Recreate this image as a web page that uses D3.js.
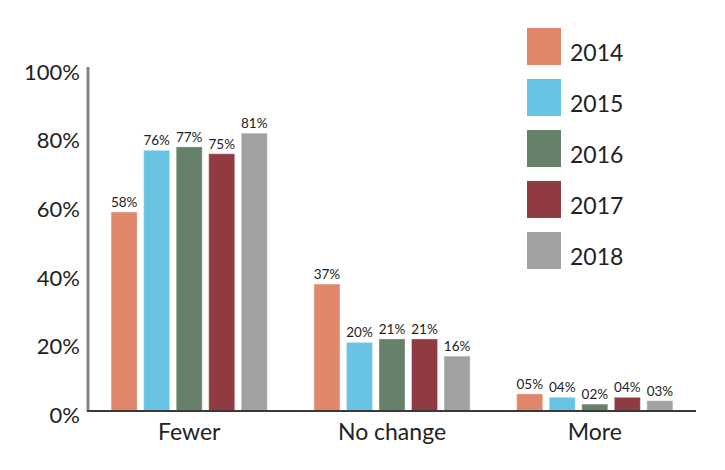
<!DOCTYPE html>
<html>
<head>
<meta charset="utf-8">
<script src="https://cdn.jsdelivr.net/npm/d3@7"></script>
<style>
  html, body { margin: 0; padding: 0; background: #fff; }
  svg { display: block; }
  text { font-family: Lato, "Open Sans", sans-serif; fill: #222; }
</style>
</head>
<body>
<svg id="chart" width="725" height="470"></svg>
<script>
const categories = ["Fewer", "No change", "More"];
const years = ["2014", "2015", "2016", "2017", "2018"];
const values2014 = [58, 37, 5];
const values2015 = [76, 20, 4];
const values2016 = [77, 21, 2];
const values2017 = [75, 21, 4];
const values2018 = [81, 16, 3];
const valueLabels2014 = ["58%", "37%", "05%"];
const valueLabels2015 = ["76%", "20%", "04%"];
const valueLabels2016 = ["77%", "21%", "02%"];
const valueLabels2017 = ["75%", "21%", "04%"];
const valueLabels2018 = ["81%", "16%", "03%"];
const yTicks = [0, 20, 40, 60, 80, 100];
const yTickLabels = ["0%", "20%", "40%", "60%", "80%", "100%"];
const colors = ["#E0866A", "#68C4E2", "#67806A", "#903A42", "#A1A1A1"];

const seriesValues = [values2014, values2015, values2016, values2017, values2018];
const seriesLabels = [valueLabels2014, valueLabels2015, valueLabels2016, valueLabels2017, valueLabels2018];

const svg = d3.select("#chart");
const x0 = d3.scaleBand().domain(categories).range([88, 696]).paddingInner(0.23).paddingOuter(0.114);
const x1 = d3.scaleBand().domain(years).range([0, x0.bandwidth()]).paddingInner(0.2).paddingOuter(0);
const y = d3.scaleLinear().domain([0, 100]).range([411, 68]);
const color = d3.scaleOrdinal().domain(years).range(colors);

const rows = [];
categories.forEach((c, ci) => {
  years.forEach((yr, si) => {
    rows.push({ cat: c, year: yr, value: seriesValues[si][ci], label: seriesLabels[si][ci] });
  });
});

// bars
svg.append("g").selectAll("rect").data(rows).join("rect")
  .attr("x", d => x0(d.cat) + x1(d.year))
  .attr("y", d => y(d.value))
  .attr("width", x1.bandwidth())
  .attr("height", d => y(0) - y(d.value))
  .attr("fill", d => color(d.year))
  .attr("stroke", "#fff").attr("stroke-opacity", 0.35).attr("stroke-width", 1);

// value labels
svg.append("g").selectAll("text").data(rows).join("text")
  .attr("x", d => x0(d.cat) + x1(d.year) + x1.bandwidth() / 2)
  .attr("y", d => y(d.value) - 5)
  .attr("text-anchor", "middle")
  .attr("font-size", 13.5)
  .attr("fill", "#333")
  .text(d => d.label);

// y axis line
svg.append("line")
  .attr("x1", 88).attr("x2", 88)
  .attr("y1", y(100) - 1).attr("y2", y(0))
  .attr("stroke", "#858585").attr("stroke-width", 3);

// baseline
svg.append("line")
  .attr("x1", 87).attr("x2", 696)
  .attr("y1", y(0)).attr("y2", y(0))
  .attr("stroke", "#3a3a3a").attr("stroke-width", 2);

// y tick labels
svg.append("g").selectAll("text").data(yTicks).join("text")
  .attr("x", 80)
  .attr("y", d => y(d) + 4)
  .attr("dy", "0.35em")
  .attr("text-anchor", "end")
  .attr("font-size", 22)
  .text((d, i) => yTickLabels[i]);

// category labels
svg.append("g").selectAll("text").data(categories).join("text")
  .attr("x", d => x0(d) + x0.bandwidth() / 2)
  .attr("y", 432)
  .attr("dy", "0.35em")
  .attr("text-anchor", "middle")
  .attr("font-size", 23)
  .text(d => d);

// legend
const leg = svg.append("g").selectAll("g").data(years).join("g")
  .attr("transform", (d, i) => `translate(527, ${28 + i * 51})`);
leg.append("rect")
  .attr("width", 34).attr("height", 37)
  .attr("fill", d => color(d));
leg.append("text")
  .attr("x", 43).attr("y", 25)
  .attr("dy", "0.35em")
  .attr("font-size", 23)
  .text(d => d);
</script>
</body>
</html>
